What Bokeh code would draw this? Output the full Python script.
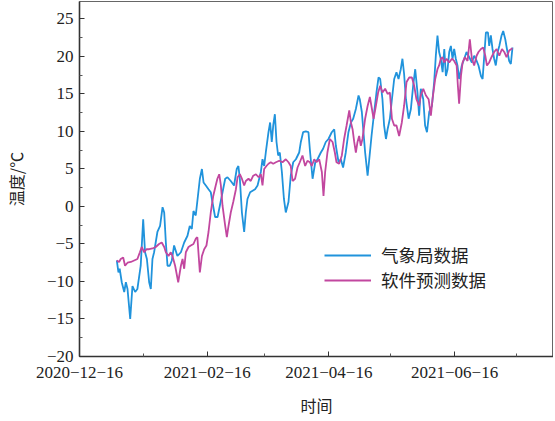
import pandas as pd
from bokeh.plotting import figure
from bokeh.models import (Range1d, FixedTicker, CustomJSTickFormatter, Legend, LegendItem)
from bokeh.embed import file_html
from bokeh.resources import INLINE

# day offsets relative to BASE_DATE
BASE_DATE = "2020-12-15"

obs_day = [19.1, 19.9, 20.5, 21.5, 22.7, 23.5, 24.3, 25.6, 26.7, 28.0, 29.1, 30.7, 31.9, 32.8,
           33.7, 34.8, 35.6, 36.4, 37.2, 38.8, 40.1, 41.3, 42.1, 42.9, 43.7, 44.8, 45.8, 46.9,
           48.5, 50.2, 51.8, 53.4, 54.5, 55.5, 56.3, 57.4, 58.3, 59.4, 60.4, 61.2, 62.3, 63.6,
           64.7, 65.5, 66.8, 68.0, 69.1, 70.4, 71.7, 72.8, 74.4, 76.0, 77.3, 78.1, 78.8, 79.8,
           80.9, 81.7, 82.5, 83.8, 85.0, 86.2, 87.4, 89.0, 89.8, 90.6, 91.4, 92.7, 93.5, 94.3,
           95.0, 95.8, 96.6, 97.4, 98.2, 99.2, 100.2, 101.1, 102.4, 103.5, 104.7, 106.0, 107.6,
           108.4, 109.5, 110.8, 112.1, 112.9, 114.1, 115.4, 116.5, 118.1, 119.2, 120.5, 121.8,
           123.4, 124.6, 125.4, 126.7, 127.8, 128.9, 130.2, 131.5, 132.7, 133.8, 135.1, 136.4,
           137.0, 138.0, 138.8, 139.6, 140.8, 141.6, 142.7, 144.0, 145.1, 146.1, 146.9, 148.0,
           148.8, 149.7, 150.5, 151.6, 152.6, 153.7, 154.8, 155.8, 156.9, 157.7, 158.5, 159.4,
           160.7, 161.8, 162.9, 163.9, 165.0, 165.8, 166.6, 167.8, 168.7, 169.6, 170.7, 172.0,
           173.1, 173.9, 174.7, 175.5, 176.3, 177.2, 178.0, 178.8, 179.6, 180.4, 181.2, 182.0,
           182.8, 183.6, 184.4, 185.2, 186.5, 187.7, 188.8, 190.1, 191.4, 192.5, 193.3, 194.6,
           195.8, 196.6, 197.4, 198.2, 199.2, 199.8, 200.6, 201.4, 202.2, 203.0, 203.9, 204.7,
           205.8, 206.6, 207.6, 208.4, 209.5, 210.3, 211.1]
obs_temp = [-7.2, -8.8, -8.3, -10.1, -11.4, -10.1, -11.0, -15.0, -10.6, -11.4, -11.0, -7.9, -1.7, -6.1,
            -7.0, -10.1, -11.0, -7.0, -6.1, -3.4, -2.6, -0.1, -0.8, -4.8, -7.9, -7.9, -7.2, -5.2,
            -6.6, -6.1, -4.8, -3.9, -2.6, -3.0, -0.6, -1.2, 1.0, 3.7, 5.0, 3.2, 2.8, 2.3,
            1.9, 0.6, -1.4, -1.4, 0.1, 1.9, 3.7, 3.9, 3.4, 2.8, 5.0, 5.4, 3.7, -0.8,
            -3.4, -0.8, 1.0, 1.9, 2.1, 2.3, 2.8, 4.6, 6.3, 5.4, 7.2, 9.9, 11.2, 8.6,
            10.8, 12.3, 8.6, 6.8, 7.2, 4.6, 1.0, -0.8, 0.6, 4.1, 5.9, 6.3, 7.2,
            8.6, 9.9, 10.0, 9.9, 7.2, 3.7, 5.9, 6.3, 7.2, 7.7, 8.6, 9.0,
            9.9, 10.3, 8.1, 5.9, 6.3, 5.2, 7.2, 9.9, 11.2, 11.7, 13.0, 14.8,
            14.3, 12.6, 9.9, 7.2, 4.1, 6.3, 9.4, 12.6, 15.2, 17.2, 17.0, 14.3,
            10.8, 9.0, 10.3, 11.7, 14.3, 17.0, 17.9, 17.0, 18.3, 19.7, 17.7, 14.3,
            11.7, 13.0, 16.1, 18.3, 15.2, 12.1, 15.7, 14.3, 10.8, 9.9, 12.6, 13.4,
            16.6, 20.1, 22.8, 20.6, 19.7, 17.9, 21.0, 17.4, 18.3, 20.6, 21.4, 19.7,
            21.0, 19.7, 18.8, 17.0, 18.8, 19.7, 20.6, 19.9, 19.2, 20.1, 19.7, 18.8,
            17.4, 17.0, 20.1, 23.2, 23.2, 21.4, 22.8, 21.0, 19.7, 18.8, 20.6, 21.4,
            22.8, 23.4, 22.3, 21.0, 19.4, 19.0, 21.2]

sim_day = [19.1, 20.2, 21.0, 22.2, 23.1, 24.3, 25.9, 27.5, 29.1, 30.3, 31.2, 32.4, 33.5, 34.8,
           36.4, 38.0, 39.6, 40.9, 42.1, 42.9, 44.2, 45.3, 46.1, 47.4, 48.9, 50.2, 51.0, 51.8,
           52.6, 53.9, 55.0, 56.3, 57.4, 58.2, 59.4, 60.4, 61.5, 62.6, 63.6, 64.7, 65.9, 67.1,
           67.9, 68.8, 69.6, 70.4, 71.7, 72.5, 73.3, 74.4, 75.6, 76.9, 77.7, 78.8, 79.8, 80.9,
           81.7, 83.0, 84.1, 85.3, 86.6, 87.9, 89.0, 89.8, 90.6, 91.7, 92.7, 93.8, 95.0, 96.3,
           97.9, 99.5, 101.1, 102.4, 103.5, 104.4, 105.6, 106.8, 107.9, 109.2, 110.5, 111.6,
           112.8, 113.7, 114.9, 116.0, 117.3, 118.6, 119.4, 120.2, 121.3, 122.5, 123.8, 124.9,
           125.7, 127.0, 128.3, 129.4, 130.6, 131.9, 132.7, 133.5, 134.3, 135.1, 135.9, 136.7,
           137.5, 138.3, 139.6, 140.8, 141.9, 142.9, 143.7, 144.8, 145.9, 146.9, 148.0, 149.3,
           150.5, 151.6, 152.6, 153.7, 154.8, 156.1, 157.4, 158.5, 159.7, 161.0, 162.3, 163.4,
           164.5, 165.8, 166.6, 167.8, 169.1, 170.4, 171.5, 172.3, 173.6, 174.7, 175.5, 176.3,
           177.2, 178.0, 179.1, 180.4, 181.7, 182.8, 184.0, 184.6, 185.2, 186.1, 186.9, 188.0,
           189.3, 190.4, 191.4, 192.5, 193.7, 194.6, 195.8, 196.9, 197.9, 198.7, 199.8, 200.9,
           202.2, 203.4, 204.7, 206.0, 207.1, 208.2, 209.5, 211.1]
sim_temp = [-7.2, -7.4, -7.0, -6.8, -7.9, -7.5, -7.4, -7.2, -7.0, -6.1, -5.4, -6.1, -5.7, -5.7,
            -5.6, -5.4, -5.0, -4.8, -5.4, -6.1, -6.6, -6.1, -6.6, -7.9, -10.1, -7.9, -7.0, -8.3,
            -6.1, -5.4, -5.2, -5.0, -4.3, -4.1, -8.8, -6.6, -5.7, -5.2, -3.4, -0.8, 1.4, 2.8,
            3.7, 4.3, 2.8, 0.1, -2.6, -4.1, -2.6, -0.8, 0.6, 2.3, 3.9, 4.3, 3.7, 2.8,
            3.4, 3.7, 3.4, 4.1, 4.3, 3.9, 4.3, 2.8, 5.0, 5.4, 5.7, 5.9, 5.7, 5.9,
            6.1, 5.9, 6.3, 5.9, 5.4, 3.4, 3.7, 5.2, 5.9, 6.8, 5.4, 6.1,
            5.9, 5.4, 6.3, 5.9, 6.3, 4.6, 1.4, 4.6, 7.2, 9.0, 8.6, 7.2,
            5.9, 5.7, 6.8, 9.0, 10.8, 12.8, 11.2, 10.3, 8.6, 7.2, 8.6, 9.4,
            8.1, 9.0, 11.7, 13.4, 14.6, 13.0, 11.7, 13.4, 15.2, 16.1, 15.2, 15.7,
            15.0, 15.2, 11.7, 10.8, 10.8, 9.4, 11.2, 13.4, 16.6, 17.2, 17.2, 16.1,
            14.3, 13.4, 14.8, 15.7, 14.8, 14.3, 12.1, 14.3, 17.0, 18.3, 18.8, 19.7,
            19.9, 19.2, 19.7, 19.2, 19.7, 19.4, 18.8, 16.1, 13.7, 17.4, 19.2, 19.9,
            19.4, 22.3, 19.7, 18.8, 20.1, 20.6, 21.0, 21.2, 20.1, 18.8, 19.2, 19.9,
            20.6, 21.0, 20.1, 21.0, 20.6, 19.9, 20.8, 21.1]

x_tick_dates = ["2020-12-16", "2021-02-16", "2021-04-16", "2021-06-16"]
x_minor_dates = ["2021-01-16", "2021-03-16", "2021-05-16", "2021-07-16"]
y_ticks = [-20, -15, -10, -5, 0, 5, 10, 15, 20, 25]
y_minor = [-17.5, -12.5, -7.5, -2.5, 2.5, 7.5, 12.5, 17.5, 22.5]
series_names = ["气象局数据", "软件预测数据"]
x_label = "时间"
y_label = "温度/℃"

base = pd.Timestamp(BASE_DATE)
obs_x = [base + pd.Timedelta(days=d) for d in obs_day]
sim_x = [base + pd.Timedelta(days=d) for d in sim_day]

def ms(s):
    return pd.Timestamp(s).value / 1e6

p = figure(frame_width=474, frame_height=355, x_axis_type="datetime", output_backend="svg",
           toolbar_location=None, min_border_left=70, min_border_right=0,
           min_border_top=1, min_border_bottom=50,
           x_range=Range1d(pd.Timestamp("2020-12-16"), pd.Timestamp("2021-08-03")),
           y_range=Range1d(-20, 27.33))

BLUE = "#2093dc"
MAGENTA = "#c2479f"
r_obs = p.line(obs_x, obs_temp, line_color=BLUE, line_width=1.8)
r_sim = p.line(sim_x, sim_temp, line_color=MAGENTA, line_width=1.8)

p.grid.visible = False
p.outline_line_color = "#666666"
p.outline_line_width = 1

p.xaxis.ticker = FixedTicker(ticks=[ms(s) for s in x_tick_dates],
                             minor_ticks=[ms(s) for s in x_minor_dates])
p.xaxis.formatter = CustomJSTickFormatter(code="""
const d = new Date(tick);
const pad = (n) => String(n).padStart(2, "0");
return d.getUTCFullYear() + "\u2212" + pad(d.getUTCMonth() + 1) + "\u2212" + pad(d.getUTCDate());
""")
p.yaxis.ticker = FixedTicker(ticks=y_ticks, minor_ticks=y_minor)
p.yaxis.formatter = CustomJSTickFormatter(code="""
return tick < 0 ? "\u2212" + Math.abs(tick) : String(tick);
""")

CJK = "Noto Sans CJK SC"
SERIF = "Liberation Serif"
for ax in (p.xaxis[0], p.yaxis[0]):
    ax.axis_line_color = "#333333"
    ax.axis_line_width = 1.6
    ax.major_tick_line_color = "#333333"
    ax.minor_tick_line_color = "#555555"
    ax.major_tick_in = 5
    ax.major_tick_out = 0
    ax.minor_tick_in = 3
    ax.minor_tick_out = 0
    ax.major_label_text_font = SERIF
    ax.major_label_text_font_size = "17px"
    ax.major_label_text_color = "#222222"
    ax.axis_label_text_font = CJK
    ax.axis_label_text_font_size = "16px"
    ax.axis_label_text_font_style = "normal"
    ax.axis_label_text_color = "#222222"

p.xaxis.axis_label = x_label
p.yaxis.axis_label = y_label
p.xaxis.major_label_standoff = 10
p.xaxis.axis_label_standoff = 12
p.yaxis.major_label_standoff = 6
p.yaxis.axis_label_standoff = 16

legend = Legend(items=[LegendItem(label=series_names[0], renderers=[r_obs]),
                       LegendItem(label=series_names[1], renderers=[r_sim])],
                location=(245, 64), orientation="vertical")
legend.border_line_alpha = 0
legend.background_fill_alpha = 0
legend.glyph_width = 47
legend.glyph_height = 20
legend.label_height = 20
legend.spacing = 0
legend.padding = 0
legend.margin = 0
legend.label_standoff = 10
legend.label_text_font = CJK
legend.label_text_font_size = "17.5px"
legend.label_text_color = "#222222"
p.add_layout(legend)

open("out.html", "w").write(file_html(p, INLINE))
